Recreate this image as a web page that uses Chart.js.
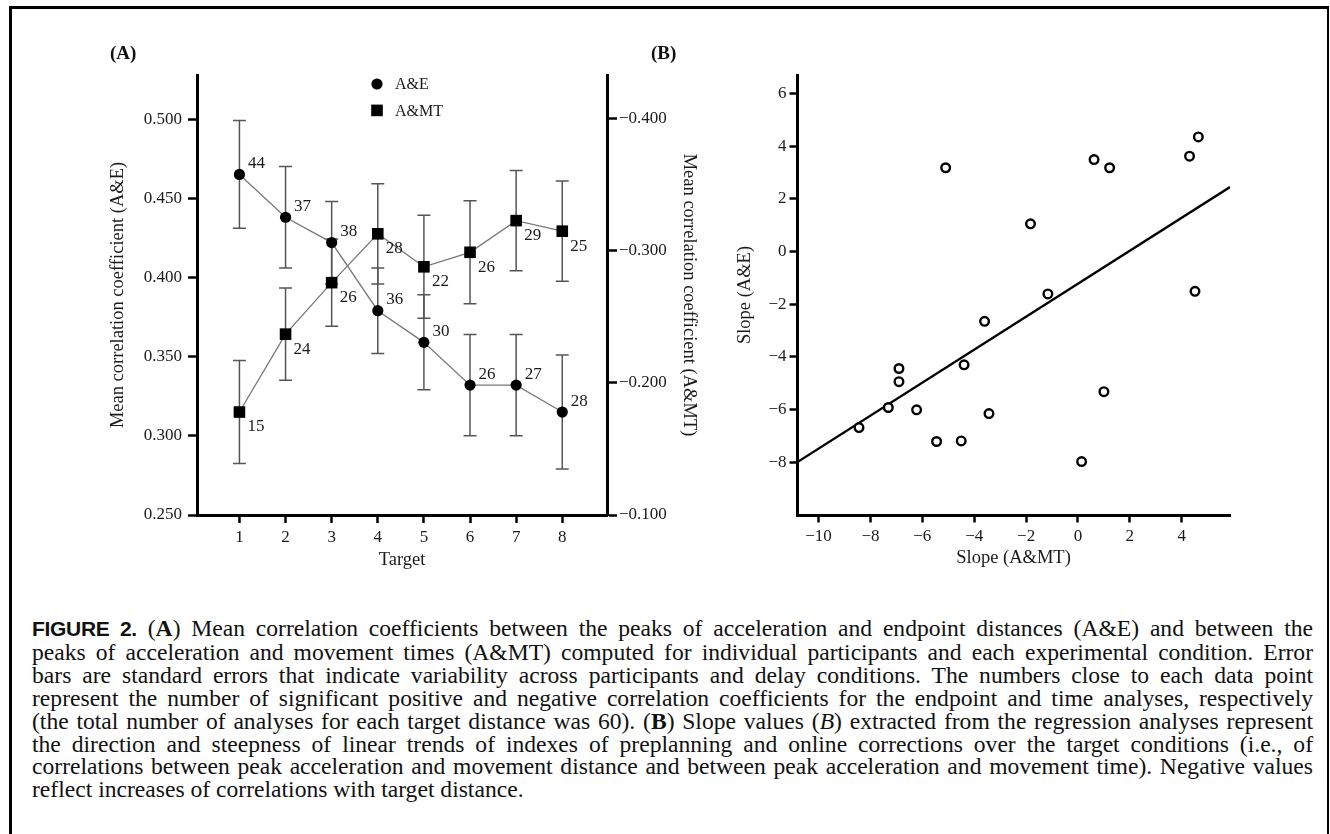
<!DOCTYPE html>
<html><head><meta charset="utf-8">
<script src="https://cdn.jsdelivr.net/npm/chart.js@4/dist/chart.umd.min.js"></script>
<style>
html,body{margin:0;padding:0;background:#fff;}
body{width:1330px;height:834px;position:relative;overflow:hidden;font-family:"Liberation Serif","Times New Roman",serif;color:#111;}
#frame{position:absolute;left:9px;top:6px;width:1315px;height:900px;border-left:3px solid #000;border-top:3px solid #000;border-right:2px solid #000;}
#cA{position:absolute;left:0;top:0;}
#cB{position:absolute;left:700px;top:0;}
.plabel{position:absolute;top:43px;font-weight:bold;font-size:19px;line-height:20px;}
#caption{position:absolute;left:32px;top:617px;width:1281px;font-size:23.6px;line-height:22.9px;}
#caption div{text-align:justify;text-align-last:justify;}
#caption div.last{text-align-last:left;}
.fig{font-family:"Liberation Sans Narrow","Liberation Sans",Arial,sans-serif;font-weight:bold;font-size:21px;letter-spacing:-0.3px;}
</style></head>
<body>
<div id="frame"></div>
<canvas id="cA" width="720" height="600"></canvas>
<canvas id="cB" width="630" height="600"></canvas>
<div class="plabel" style="left:110px">(A)</div>
<div class="plabel" style="left:651px">(B)</div>
<div id="caption">
<div><span class="fig">FIGURE 2.</span> (<b>A</b>) Mean correlation coefficients between the peaks of acceleration and endpoint distances (A&amp;E) and between the</div>
<div>peaks of acceleration and movement times (A&amp;MT) computed for individual participants and each experimental condition. Error</div>
<div>bars are standard errors that indicate variability across participants and delay conditions. The numbers close to each data point</div>
<div>represent the number of significant positive and negative correlation coefficients for the endpoint and time analyses, respectively</div>
<div>(the total number of analyses for each target distance was 60). (<b>B</b>) Slope values (<i>B</i>) extracted from the regression analyses represent</div>
<div>the direction and steepness of linear trends of indexes of preplanning and online corrections over the target conditions (i.e., of</div>
<div>correlations between peak acceleration and movement distance and between peak acceleration and movement time). Negative values</div>
<div class="last">reflect increases of correlations with target distance.</div>
</div>
<script>
// ---- Panel A data ----
const targets = [1, 2, 3, 4, 5, 6, 7, 8];
const aeMean  = [0.465, 0.438, 0.422, 0.379, 0.359, 0.332, 0.332, 0.315];
const aeSE    = [0.034, 0.032, 0.026, 0.027, 0.030, 0.032, 0.032, 0.036];
const aeCount = [44, 37, 38, 36, 30, 26, 27, 28];
const amtMean = [-0.178, -0.237, -0.276, -0.313, -0.288, -0.299, -0.323, -0.315];
const amtSE   = [0.039, 0.035, 0.033, 0.038, 0.039, 0.039, 0.038, 0.038];
const amtCount = [15, 24, 26, 28, 22, 26, 29, 25];
const leftTicks  = [0.25, 0.30, 0.35, 0.40, 0.45, 0.50];
const rightTicks = [-0.4, -0.3, -0.2, -0.1];

// ---- Panel B data ----
const slopeMT = [-5.10, -1.83, -3.60, -4.39, 0.62, 1.22, 4.30, 4.64, -1.16, 4.51, -6.90, -6.90, -7.31, -8.44, -6.22, -5.45, -4.50, -3.43, 1.00, 0.14];
const slopeE  = [3.18, 1.05, -2.65, -4.30, 3.49, 3.18, 3.62, 4.35, -1.61, -1.51, -4.44, -4.94, -5.92, -6.68, -6.01, -7.21, -7.19, -6.15, -5.32, -7.97];
const fitX = [-10.83, 5.86];
const fitY = [-8.0, 2.45];
const bXTicks = [-10, -8, -6, -4, -2, 0, 2, 4];
const bYTicks = [-8, -6, -4, -2, 0, 2, 4, 6];

const SERIF = '"Liberation Serif","Times New Roman",serif';
const TXT = '#1a1a1a';
const minus = v => v < 0 ? '\u2212' + Math.abs(v) : String(v);

const errorBars = {
  id: 'errorBars',
  beforeDatasetsDraw(chart) {
    const ctx = chart.ctx, xs = chart.scales.x;
    chart.data.datasets.forEach(ds => {
      if (!ds.se) return;
      const ys = chart.scales[ds.yAxisID];
      ctx.save();
      ctx.strokeStyle = '#555'; ctx.lineWidth = 1.5;
      ds.data.forEach((p, j) => {
        const x = xs.getPixelForValue(p.x);
        const y1 = ys.getPixelForValue(p.y - ds.se[j]);
        const y2 = ys.getPixelForValue(p.y + ds.se[j]);
        ctx.beginPath();
        ctx.moveTo(x, y1); ctx.lineTo(x, y2);
        ctx.moveTo(x - 6.5, y1); ctx.lineTo(x + 6.5, y1);
        ctx.moveTo(x - 6.5, y2); ctx.lineTo(x + 6.5, y2);
        ctx.stroke();
      });
      ctx.restore();
    });
  },
  afterDatasetsDraw(chart) {
    const ctx = chart.ctx, xs = chart.scales.x;
    ctx.save();
    ctx.font = '17px ' + SERIF; ctx.fillStyle = TXT;
    ctx.textAlign = 'left'; ctx.textBaseline = 'middle';
    chart.data.datasets.forEach(ds => {
      if (!ds.counts) return;
      const ys = chart.scales[ds.yAxisID];
      ds.data.forEach((p, j) => {
        ctx.fillText(String(ds.counts[j]), xs.getPixelForValue(p.x) + ds.countOffset[0], ys.getPixelForValue(p.y) + ds.countOffset[1]);
      });
    });
    ctx.restore();
  },
  afterDraw(chart) {
    const ctx = chart.ctx, a = chart.chartArea;
    const lx = a.left + 180, ly = a.top + 9;
    ctx.save();
    ctx.fillStyle = '#000';
    ctx.beginPath(); ctx.arc(lx, ly, 5.6, 0, Math.PI * 2); ctx.fill();
    ctx.fillRect(lx - 5.8, ly + 26.4 - 5.8, 11.6, 11.6);
    ctx.font = '16px ' + SERIF; ctx.fillStyle = TXT;
    ctx.textAlign = 'left'; ctx.textBaseline = 'middle';
    chart.data.datasets.forEach((ds, i) => ctx.fillText(ds.label, lx + 18, ly + 26.4 * i + 1));
    ctx.restore();
  }
};

const tickFont = {family: SERIF, size: 17};
const titleFont = {family: SERIF, size: 18.5};

new Chart(document.getElementById('cA'), {
  type: 'line',
  data: {
    datasets: [
      {label: 'A&E', data: targets.map((t, i) => ({x: t, y: aeMean[i]})), yAxisID: 'y',
       se: aeSE, counts: aeCount, countOffset: [8.5, -11],
       borderColor: '#777', borderWidth: 1.3, pointStyle: 'circle', pointRadius: 5.6,
       pointBackgroundColor: '#000', pointBorderColor: '#000', pointBorderWidth: 0},
      {label: 'A&MT', data: targets.map((t, i) => ({x: t, y: amtMean[i]})), yAxisID: 'y2',
       se: amtSE, counts: amtCount, countOffset: [8, 15],
       borderColor: '#777', borderWidth: 1.3, pointStyle: 'rect', pointRadius: 8.2,
       pointBackgroundColor: '#000', pointBorderColor: '#000', pointBorderWidth: 0}
    ]
  },
  options: {
    responsive: false, animation: false, devicePixelRatio: 1,
    layout: {padding: {top: 75, left: 0, right: 0, bottom: 0}},
    plugins: {legend: {display: false}, tooltip: {enabled: false}},
    scales: {
      x: {type: 'linear', min: 0.08, max: 8.97,
        afterBuildTicks: s => { s.ticks = targets.map(v => ({value: v})); },
        afterFit: s => { s.height = 85; },
        grid: {drawOnChartArea: false, drawTicks: true, tickLength: 8, tickWidth: 2.5, color: '#000'},
        border: {display: true, width: 3, color: '#000'},
        ticks: {font: tickFont, color: TXT, padding: 4, maxRotation: 0, autoSkip: false},
        title: {display: true, text: 'Target', font: titleFont, color: TXT, padding: {top: 0, bottom: 29}}},
      y: {position: 'left', min: 0.25, max: 0.5278,
        afterBuildTicks: s => { s.ticks = leftTicks.map(v => ({value: v})); },
        afterFit: s => { s.width = 197; },
        grid: {drawOnChartArea: false, drawTicks: true, tickLength: 9, tickWidth: 2.5, color: '#000'},
        border: {display: true, width: 3, color: '#000'},
        ticks: {font: tickFont, color: TXT, padding: 6, callback: v => v.toFixed(3)},
        title: {display: true, text: 'Mean correlation coefficient (A&E)', font: titleFont, color: TXT, padding: {top: 107, bottom: 0}}},
      y2: {position: 'right', reverse: true, min: -0.4333, max: -0.1,
        afterBuildTicks: s => { s.ticks = rightTicks.map(v => ({value: v})); },
        afterFit: s => { s.width = 113; },
        grid: {drawOnChartArea: false, drawTicks: true, tickLength: 10, tickWidth: 2.5, color: '#000'},
        border: {display: true, width: 3, color: '#000'},
        ticks: {font: tickFont, color: TXT, padding: 2, callback: v => '\u2212' + Math.abs(v).toFixed(3)},
        title: {display: true, text: 'Mean correlation coefficient (A&MT)', font: titleFont, color: TXT, padding: {top: 20, bottom: 0}}}
    }
  },
  plugins: [errorBars]
});

new Chart(document.getElementById('cB'), {
  type: 'scatter',
  data: {
    datasets: [
      {type: 'scatter', label: 'Slopes', order: 0, data: slopeMT.map((x, i) => ({x: x, y: slopeE[i]})),
       pointStyle: 'circle', pointRadius: 4.3, pointBorderWidth: 2.4,
       pointBorderColor: '#000', pointBackgroundColor: '#fff'},
      {type: 'line', label: 'Fit', order: 1, data: fitX.map((x, i) => ({x: x, y: fitY[i]})),
       borderColor: '#000', borderWidth: 2.4, pointRadius: 0}
    ]
  },
  options: {
    responsive: false, animation: false, devicePixelRatio: 1,
    layout: {padding: {top: 75, left: 0, right: 100, bottom: 0}},
    plugins: {legend: {display: false}, tooltip: {enabled: false}},
    scales: {
      x: {type: 'linear', min: -10.83, max: 5.86,
        afterBuildTicks: s => { s.ticks = bXTicks.map(v => ({value: v})); },
        afterFit: s => { s.height = 85; },
        grid: {drawOnChartArea: false, drawTicks: true, tickLength: 7.5, tickWidth: 2.5, color: '#000'},
        border: {display: true, width: 3, color: '#000'},
        ticks: {font: tickFont, color: TXT, padding: 4, maxRotation: 0, autoSkip: false, callback: minus},
        title: {display: true, text: 'Slope (A&MT)', font: titleFont, color: TXT, padding: {top: 0, bottom: 31}}},
      y: {type: 'linear', position: 'left', min: -10, max: 6.7,
        afterBuildTicks: s => { s.ticks = bYTicks.map(v => ({value: v})); },
        afterFit: s => { s.width = 97; },
        grid: {drawOnChartArea: false, drawTicks: true, tickLength: 7.5, tickWidth: 2.5, color: '#000'},
        border: {display: true, width: 3, color: '#000'},
        ticks: {font: tickFont, color: TXT, padding: 3, callback: minus},
        title: {display: true, text: 'Slope (A&E)', font: titleFont, color: TXT, padding: {top: 34, bottom: 0}}}
    }
  }
});
</script>
</body></html>
